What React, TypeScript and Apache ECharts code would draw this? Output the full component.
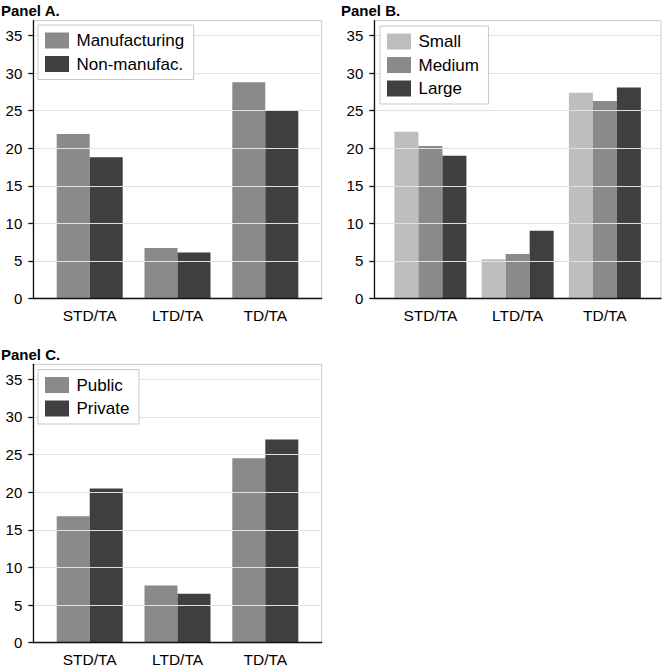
import React, { useEffect, useRef } from "react";
import * as echarts from "echarts";

const categories = ["STD/TA", "LTD/TA", "TD/TA"];
const yTicks = [0, 5, 10, 15, 20, 25, 30, 35];
const yMax = 37;

const manufacturing = [21.9, 6.7, 28.8];
const nonManufac = [18.8, 6.1, 25.0];

const small = [22.2, 5.2, 27.4];
const medium = [20.3, 5.9, 26.3];
const large = [19.0, 9.0, 28.1];

const publicFirms = [16.8, 7.6, 24.5];
const privateFirms = [20.5, 6.5, 27.0];

const FONT = "'Liberation Sans', Arial, Helvetica, sans-serif";
const LIGHT = "#bebebe";
const MID = "#8a8a8a";
const DARK = "#3f3f3f";

type Panel = {
  title: string;
  titleLeft: number;
  titleTop: number;
  left: number;
  top: number;
  width: number;
  height: number;
  barWidth: number;
  legendLeft: number;
  legendTop: number;
  series: { name: string; data: number[]; color: string }[];
};

const panels: Panel[] = [
  {
    title: "Panel A.",
    titleLeft: 1,
    titleTop: 3,
    left: 33.3,
    top: 20.7,
    width: 288.4,
    height: 277.6,
    barWidth: 33,
    legendLeft: 38,
    legendTop: 25,
    series: [
      { name: "Manufacturing", data: manufacturing, color: MID },
      { name: "Non-manufac.", data: nonManufac, color: DARK },
    ],
  },
  {
    title: "Panel B.",
    titleLeft: 341,
    titleTop: 3,
    left: 374.3,
    top: 20.7,
    width: 286.7,
    height: 277.6,
    barWidth: 24,
    legendLeft: 380,
    legendTop: 26,
    series: [
      { name: "Small", data: small, color: LIGHT },
      { name: "Medium", data: medium, color: MID },
      { name: "Large", data: large, color: DARK },
    ],
  },
  {
    title: "Panel C.",
    titleLeft: 1,
    titleTop: 347,
    left: 33.3,
    top: 364.3,
    width: 288.4,
    height: 278.4,
    barWidth: 33,
    legendLeft: 38,
    legendTop: 369.5,
    series: [
      { name: "Public", data: publicFirms, color: MID },
      { name: "Private", data: privateFirms, color: DARK },
    ],
  },
];

const INSET = 12.5;

function buildOption() {
  const grid: any[] = [];
  const xAxis: any[] = [];
  const yAxis: any[] = [];
  const series: any[] = [];
  const legend: any[] = [];
  const title: any[] = [];

  panels.forEach((p, i) => {
    const fi = i * 2;
    const ii = i * 2 + 1;
    grid.push({
      left: p.left,
      top: p.top,
      width: p.width,
      height: p.height,
      show: true,
      borderColor: "#c8c8c8",
      borderWidth: 1,
      backgroundColor: "transparent",
      outerBoundsMode: "none",
      containLabel: false,
    });
    grid.push({
      left: p.left + INSET,
      top: p.top,
      width: p.width - 2 * INSET,
      height: p.height,
      outerBoundsMode: "none",
      containLabel: false,
    });
    xAxis.push({
      gridIndex: fi,
      type: "category",
      data: [""],
      axisLine: { show: true, lineStyle: { color: "#111", width: 1.3 } },
      axisTick: { show: false },
      axisLabel: { show: false },
      splitLine: { show: false },
      z: 5,
    });
    xAxis.push({
      gridIndex: ii,
      type: "category",
      data: categories,
      axisLine: { show: false },
      axisTick: { show: false },
      axisLabel: {
        show: true,
        color: "#000",
        fontSize: 15.5,
        fontFamily: FONT,
        margin: 9,
      },
      splitLine: { show: false },
    });
    yAxis.push({
      gridIndex: fi,
      type: "value",
      min: 0,
      max: yMax,
      interval: 5,
      axisLine: { show: true, lineStyle: { color: "#111", width: 1.3 } },
      axisTick: {
        show: true,
        length: 5,
        inside: false,
        customValues: yTicks,
        lineStyle: { color: "#111", width: 1.3 },
      },
      axisLabel: {
        show: true,
        color: "#000",
        fontSize: 15,
        fontFamily: FONT,
        margin: 11,
        customValues: yTicks,
        formatter: (v: number) => (v % 5 === 0 ? String(v) : ""),
      },
      splitLine: { show: true, lineStyle: { color: "#e0e0e0", width: 1 } },
      z: 5,
    });
    yAxis.push({
      gridIndex: ii,
      type: "value",
      min: 0,
      max: yMax,
      show: false,
      splitLine: { show: false },
    });
    p.series.forEach((s) => {
      series.push({
        type: "bar",
        name: s.name,
        xAxisIndex: ii,
        yAxisIndex: ii,
        data: s.data,
        barWidth: s && p.barWidth,
        barGap: "0%",
        itemStyle: { color: s.color },
        z: 3,
      });
    });
    legend.push({
      orient: "vertical",
      left: p.legendLeft,
      top: p.legendTop,
      data: p.series.map((s) => s.name),
      icon: "rect",
      itemWidth: 24,
      itemHeight: 16,
      itemGap: 6.5,
      padding: [7, 9.5, 7, 7],
      backgroundColor: "#fff",
      borderColor: "#c8c8c8",
      borderWidth: 1,
      borderRadius: 0,
      selectedMode: false,
      textStyle: {
        color: "#000",
        fontSize: 17,
        fontFamily: FONT,
        lineHeight: 16,
        padding: [0, 0, 0, 2.5],
      },
      z: 10,
    });
    title.push({
      text: p.title,
      left: p.titleLeft,
      top: p.titleTop,
      padding: 0,
      textStyle: {
        color: "#000",
        fontSize: 15,
        fontWeight: "bold",
        fontFamily: FONT,
      },
    });
  });

  return {
    animation: false,
    backgroundColor: "#fff",
    title,
    legend,
    grid,
    xAxis,
    yAxis,
    series,
  };
}

export default function App() {
  const ref = useRef<HTMLDivElement>(null);
  useEffect(() => {
    if (!ref.current) return;
    const chart = echarts.init(ref.current, undefined, { renderer: "svg" });
    chart.setOption(buildOption() as any);
    return () => chart.dispose();
  }, []);
  return (
    <div
      ref={ref}
      style={{ position: "absolute", left: 0, top: 0, width: 664, height: 667 }}
    />
  );
}
